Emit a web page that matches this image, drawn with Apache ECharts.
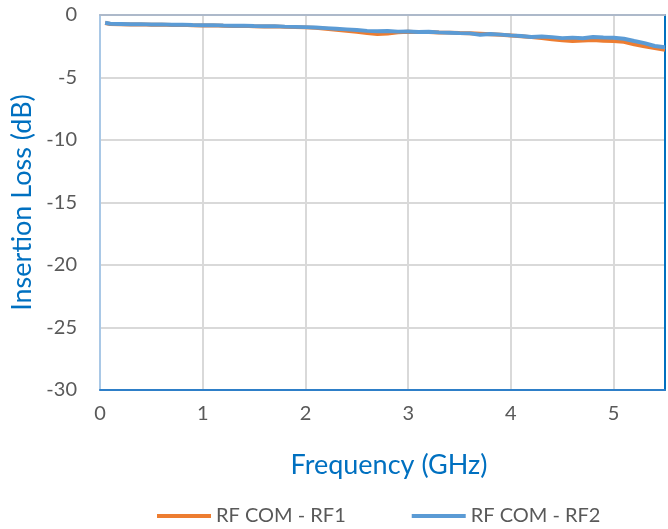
<!DOCTYPE html>
<html>
<head>
<meta charset="utf-8">
<script src="https://cdn.jsdelivr.net/npm/echarts@6/dist/echarts.min.js"></script>
<style>
html,body{margin:0;padding:0;background:#fff;}
#chart{width:668px;height:529px;}
</style>
</head>
<body>
<div id="chart"></div>
<script>
var seriesNames = ['RF COM - RF1', 'RF COM - RF2'];
var freq = [0.05,0.1,0.2,0.3,0.4,0.5,0.6,0.7,0.8,0.9,1.0,1.1,1.2,1.3,1.4,1.5,1.6,1.7,1.8,1.9,2.0,2.1,2.2,2.3,2.4,2.5,2.6,2.7,2.8,2.9,3.0,3.1,3.2,3.3,3.4,3.5,3.6,3.7,3.8,3.9,4.0,4.1,4.2,4.3,4.4,4.5,4.6,4.7,4.8,4.9,5.0,5.1,5.2,5.3,5.4,5.5];
var rf1 = [-0.64,-0.72,-0.74,-0.76,-0.75,-0.78,-0.77,-0.80,-0.79,-0.82,-0.84,-0.83,-0.86,-0.88,-0.87,-0.90,-0.92,-0.91,-0.95,-0.97,-0.99,-1.03,-1.10,-1.18,-1.26,-1.35,-1.45,-1.52,-1.48,-1.38,-1.34,-1.37,-1.36,-1.40,-1.41,-1.44,-1.46,-1.50,-1.54,-1.58,-1.64,-1.70,-1.77,-1.85,-1.95,-2.02,-2.08,-2.05,-2.00,-2.06,-2.08,-2.15,-2.35,-2.50,-2.64,-2.78];
var rf2 = [-0.62,-0.70,-0.72,-0.74,-0.73,-0.76,-0.75,-0.78,-0.77,-0.80,-0.82,-0.81,-0.84,-0.86,-0.85,-0.88,-0.90,-0.89,-0.93,-0.95,-0.97,-1.00,-1.05,-1.10,-1.15,-1.20,-1.27,-1.30,-1.28,-1.33,-1.32,-1.36,-1.34,-1.39,-1.42,-1.45,-1.47,-1.58,-1.52,-1.57,-1.63,-1.68,-1.76,-1.72,-1.77,-1.85,-1.81,-1.86,-1.76,-1.80,-1.82,-1.90,-2.08,-2.25,-2.48,-2.58];
var xTicks = [0,1,2,3,4,5];
var yTicks = [-30,-25,-20,-15,-10,-5,0];

function pairs(xs, ys){ return xs.map(function(x,i){ return [x, ys[i]]; }); }

var font = 'Lato, "Open Sans", sans-serif';
var chart = echarts.init(document.getElementById('chart'));
chart.setOption({
  animation:false,
  backgroundColor:'#fff',
  textStyle:{fontFamily:font},
  grid:{left:100, right:2, top:15, bottom:139, containLabel:false},
  legend:{
    data:seriesNames,
    left:152, top:501,
    icon:'rect', itemWidth:54, itemHeight:4, itemGap:66,
    textStyle:{fontSize:20, color:'#595959', fontFamily:font}
  },
  xAxis:[{
    type:'value', min:0, max:5.5, interval:1,
    name:'Frequency (GHz)', nameLocation:'middle', nameGap:62,
    nameTextStyle:{fontSize:27, color:'#0070C0', fontFamily:font, padding:[0,0,0,13]},
    axisLine:{show:true, onZero:false, lineStyle:{color:'#2E7FC8', width:2}},
    axisTick:{show:false},
    axisLabel:{fontSize:20, color:'#595959', margin:14, fontFamily:font,
      formatter:function(v){ return xTicks.indexOf(v)>=0 ? String(v) : ''; }},
    splitLine:{show:true, lineStyle:{color:'#D9D9D9', width:2}}
  },{
    type:'value', min:0, max:5.5, position:'top',
    axisLine:{show:true, onZero:false, lineStyle:{color:'#ADB9CA', width:2}},
    axisTick:{show:false}, axisLabel:{show:false}, splitLine:{show:false}
  }],
  yAxis:[{
    type:'value', min:-30, max:0, interval:5,
    name:'Insertion Loss (dB)', nameLocation:'middle', nameGap:64, nameRotate:90,
    nameTextStyle:{fontSize:27, color:'#0070C0', fontFamily:font},
    axisLine:{show:true, onZero:false, lineStyle:{color:'#A9C8E6', width:2}},
    axisTick:{show:false},
    axisLabel:{fontSize:20, color:'#595959', margin:23, fontFamily:font,
      formatter:function(v){ return yTicks.indexOf(v)>=0 ? String(v) : ''; }},
    splitLine:{show:true, lineStyle:{color:'#D9D9D9', width:2}}
  },{
    type:'value', min:-30, max:0, position:'right',
    axisLine:{show:true, onZero:false, lineStyle:{color:'#0070C0', width:2}},
    axisTick:{show:false}, axisLabel:{show:false}, splitLine:{show:false}
  }],
  series:[{
    name:seriesNames[0], type:'line', showSymbol:false, symbol:'none',
    data:pairs(freq, rf1), color:'#ED7D31',
    lineStyle:{width:4, color:'#ED7D31'}, z:2
  },{
    name:seriesNames[1], type:'line', showSymbol:false, symbol:'none',
    data:pairs(freq, rf2), color:'#5B9BD5',
    lineStyle:{width:4, color:'#5B9BD5'}, z:3
  }]
});
</script>
</body>
</html>
